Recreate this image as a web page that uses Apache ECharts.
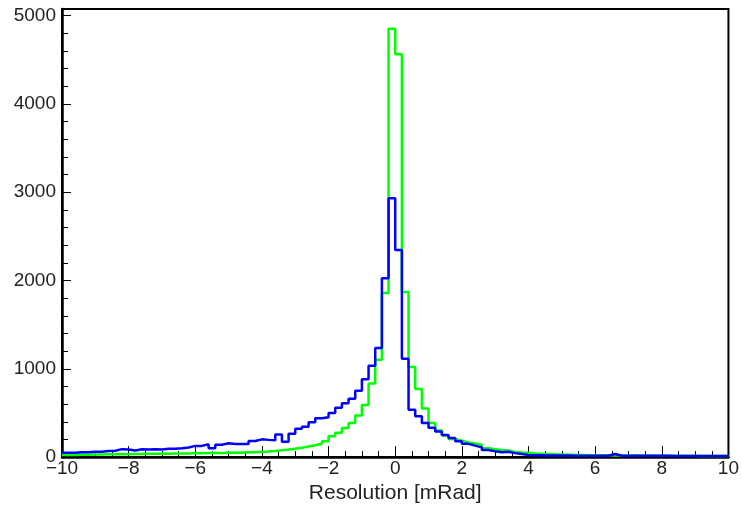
<!DOCTYPE html>
<html>
<head>
<meta charset="utf-8">
<script src="https://cdn.jsdelivr.net/npm/echarts@6/dist/echarts.min.js"></script>
<style>
html,body{margin:0;padding:0;background:#fff;}
#chart{width:742px;height:509px;}
</style>
</head>
<body>
<div id="chart"></div>
<script>
// Histogram binning (100 bins from -10 to 10)
const binStart = -10;
const binWidth = 0.2;
const xTickLabels = ['−10','−8','−6','−4','−2','0','2','4','6','8','10'];
const yTickLabels = ['0','1000','2000','3000','4000','5000'];
const xTitle = 'Resolution [mRad]';

// Green histogram counts per bin
const greenCounts = [
  25, 25, 28, 27, 30, 30, 31, 32, 35, 33,
  35, 35, 37, 38, 40, 38, 40, 42, 40, 45,
  43, 45, 48, 45, 50, 52, 50, 55, 55, 60,
  63, 70, 78, 85, 95, 105, 120, 135, 150, 180,
  235, 275, 330, 385, 470, 590, 834, 1103, 1858, 4850,
  4560, 1870, 1020, 770, 550, 385, 300, 245, 205, 185,
  165, 155, 140, 100, 90, 80, 75, 58, 52, 48,
  42, 38, 35, 32, 30, 28, 25, 24, 22, 22,
  20, 20, 19, 18, 18, 17, 17, 16, 16, 15,
  15, 15, 14, 14, 14, 13, 13, 13, 12, 12
];

// Blue histogram counts per bin
const blueCounts = [
  50, 50, 55, 55, 60, 60, 70, 72, 90, 85,
  75, 90, 85, 90, 85, 95, 95, 100, 108, 127,
  127, 145, 100, 140, 156, 148, 148, 148, 182, 201,
  195, 190, 257, 175, 264, 320, 345, 395, 440, 450,
  500, 560, 610, 660, 750, 880, 1035, 1235, 2025, 2930,
  2346, 1114, 536, 462, 387, 331, 290, 250, 215, 180,
  150, 130, 110, 80, 65, 55, 60, 45, 35, 25,
  22, 20, 18, 18, 17, 17, 16, 16, 15, 15,
  15, 16, 35, 15, 15, 15, 14, 14, 14, 14,
  14, 13, 13, 13, 13, 13, 12, 12, 12, 12
];

function toSteps(counts) {
  const pts = counts.map((c, i) => [+(binStart + i * binWidth).toFixed(4), c]);
  pts.push([+(binStart + counts.length * binWidth).toFixed(4), counts[counts.length - 1]]);
  return pts;
}

const chart = echarts.init(document.getElementById('chart'));
const font = 'Liberation Sans, Arial, sans-serif';
chart.setOption({
  animation: false,
  backgroundColor: '#fff',
  grid: { left: 62, right: 11, top: 9, bottom: 46, show: true, borderColor: '#000', borderWidth: 2, backgroundColor: 'transparent' },
  xAxis: {
    type: 'value', min: -10, max: 10, interval: 2,
    name: xTitle, nameLocation: 'middle', nameGap: 23,
    nameTextStyle: { fontFamily: font, fontSize: 21, color: '#222' },
    axisLine: { show: true, onZero: false, lineStyle: { color: '#000', width: 2.5 } },
    axisTick: { show: true, inside: true, length: 11, lineStyle: { color: '#000', width: 1 } },
    minorTick: { show: true, splitNumber: 4, length: 6, lineStyle: { color: '#000', width: 1 } },
    splitLine: { show: false },
    axisLabel: {
      fontFamily: font, fontSize: 19, color: '#222', margin: 2,
      formatter: v => { const i = Math.round((v + 10) / 2); return xTickLabels[i] !== undefined ? xTickLabels[i] : ''; }
    }
  },
  yAxis: {
    type: 'value', min: 0, max: 5073, interval: 1000,
    axisLine: { show: true, onZero: false, lineStyle: { color: '#000', width: 2.5 } },
    axisTick: { show: true, inside: true, length: 9, lineStyle: { color: '#000', width: 1 } },
    minorTick: { show: true, splitNumber: 5, length: 6, lineStyle: { color: '#000', width: 1 } },
    splitLine: { show: false },
    axisLabel: {
      fontFamily: font, fontSize: 19, color: '#222', margin: 6,
      formatter: v => (v % 1000 === 0 ? yTickLabels[v / 1000] : '')
    }
  },
  series: [
    {
      type: 'line', step: 'end', symbol: 'none', data: toSteps(greenCounts),
      lineStyle: { color: '#00ff00', width: 2.5 }, z: 2
    },
    {
      type: 'line', step: 'end', symbol: 'none', data: toSteps(blueCounts),
      lineStyle: { color: '#0000ff', width: 2.5 }, z: 3
    }
  ]
});
</script>
</body>
</html>
